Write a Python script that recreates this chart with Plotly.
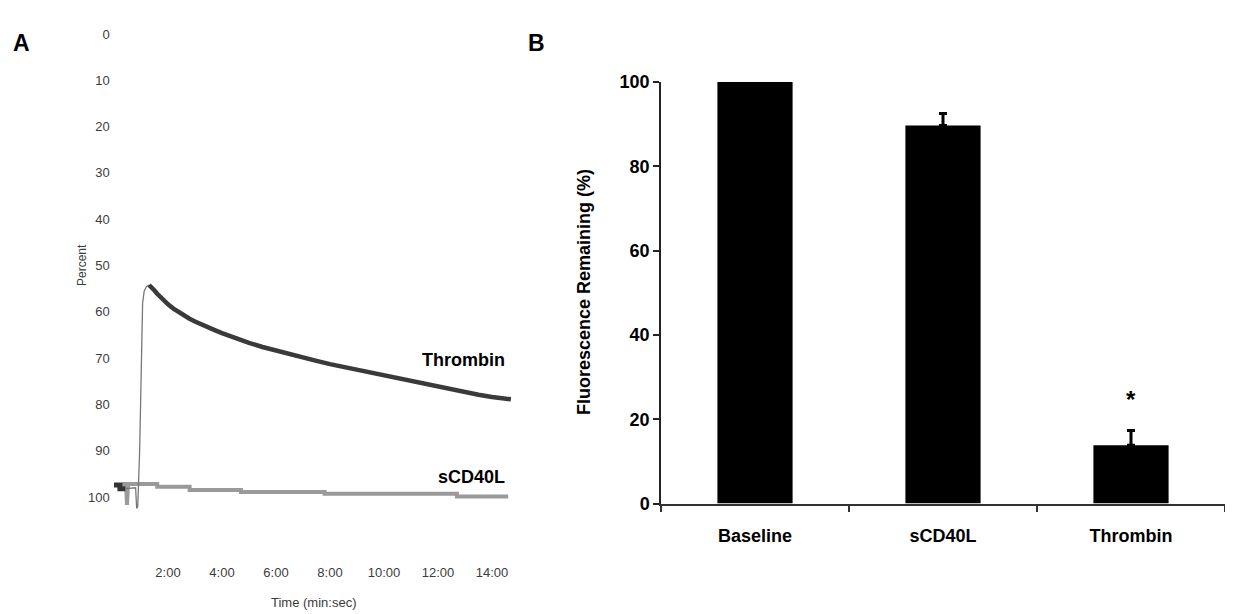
import plotly.graph_objects as go

W, H = 1233, 614
# The page is shown with the browser's default 8px body margin; place items in screen pixels.
OFF_X, OFF_Y = 8, 8

# ---------------- Panel A data (time in minutes, percent) ----------------
thr_pre_t = [0.0, 0.22, 0.22, 0.42]
thr_pre_v = [97.4, 97.4, 98.2, 98.2]

thr_rise_t = [0.42, 0.7, 0.8, 0.84, 0.88, 0.95, 1.0, 1.03, 1.06, 1.12, 1.2, 1.3]
thr_rise_v = [98.2, 98.0, 98.0, 102.5, 102.0, 90.0, 75.0, 65.0, 58.0, 55.5, 54.6, 54.2]

thr_t = [1.3, 1.4, 1.5, 1.6, 1.7, 1.8, 1.9, 2.0, 2.2, 2.4, 2.6, 2.8, 3.0, 3.25,
         3.5, 3.75, 4.0, 4.5, 5.0, 5.5, 6.0, 6.5, 7.0, 7.5, 8.0, 8.5, 9.0, 9.5,
         10.0, 10.5, 11.0, 11.5, 12.0, 12.5, 13.0, 13.5, 14.0, 14.7]
thr_v = [54.2, 54.7, 55.4, 56.1, 56.7, 57.3, 57.9, 58.4, 59.3, 60.1, 60.8, 61.5,
         62.1, 62.8, 63.4, 64.0, 64.6, 65.7, 66.7, 67.6, 68.4, 69.2, 69.9, 70.6,
         71.3, 71.9, 72.6, 73.2, 73.9, 74.5, 75.1, 75.7, 76.3, 76.9, 77.4, 77.9,
         78.4, 78.9]

cd40_t = [0.3, 0.45, 0.48, 0.52, 1.6, 1.6, 2.8, 2.8, 4.7, 4.7, 7.8, 7.8, 12.7, 12.7, 14.6]
cd40_v = [97.2, 97.2, 101.7, 97.2, 97.2, 97.8, 97.8, 98.5, 98.5, 98.9, 98.9, 99.3, 99.3, 99.9, 99.9]

a_xtick_vals = [2, 4, 6, 8, 10, 12, 14]
a_xtick_text = ["2:00", "4:00", "6:00", "8:00", "10:00", "12:00", "14:00"]
a_ytick_vals = [0, 10, 20, 30, 40, 50, 60, 70, 80, 90, 100]

# ---------------- Panel B data ----------------
categories = ["Baseline", "sCD40L", "Thrombin"]
fluor = [100.0, 89.7, 13.8]
fluor_err = [0.0, 2.8, 3.5]
b_ytick_vals = [0, 20, 40, 60, 80, 100]


def px(x):
    return (x - OFF_X) / W


def py(y):
    return 1 - (y - OFF_Y) / H


fig = go.Figure()

# Panel A traces
fig.add_trace(go.Scatter(x=cd40_t, y=cd40_v, mode="lines",
                         line=dict(color="#9a9a9a", width=4),
                         xaxis="x", yaxis="y", showlegend=False))
fig.add_trace(go.Scatter(x=thr_pre_t, y=thr_pre_v, mode="lines",
                         line=dict(color="#333333", width=5),
                         xaxis="x", yaxis="y", showlegend=False))
fig.add_trace(go.Scatter(x=thr_rise_t, y=thr_rise_v, mode="lines",
                         line=dict(color="#777777", width=1.3),
                         xaxis="x", yaxis="y", showlegend=False))
fig.add_trace(go.Scatter(x=thr_t, y=thr_v, mode="lines",
                         line=dict(color="#3a3a3a", width=4.5),
                         xaxis="x", yaxis="y", showlegend=False))

# Panel B bars
fig.add_trace(go.Bar(x=categories, y=fluor, width=0.4,
                     marker=dict(color="black", line=dict(width=0)),
                     error_y=dict(type="data", array=fluor_err,
                                  arrayminus=[0, 0, 0], symmetric=False,
                                  color="black", thickness=3, width=4),
                     xaxis="x2", yaxis="y2", showlegend=False))

# Panel A geometry: t=0 at pixel 114, 27 px per minute; 0% at pixel 34, 4.63 px per %
a_xr = [-0.05, 14.8]
a_left = 114 + 27 * a_xr[0]
a_right = 114 + 27 * a_xr[1]
a_yr = [114.3, -2]
a_top = 34 + 4.63 * a_yr[1]
a_bot = 34 + 4.63 * a_yr[0]

fam = "Liberation Sans, Arial, sans-serif"
fontA = dict(family=fam, size=13, color="#3c3c3c")

fig.update_layout(
    width=W, height=H,
    margin=dict(l=0, r=0, t=0, b=0, pad=0, autoexpand=False),
    paper_bgcolor="white", plot_bgcolor="white",
    font=dict(family=fam),
    xaxis=dict(domain=[px(a_left), px(a_right)], range=a_xr, automargin=False,
               showline=False, showgrid=False, zeroline=False, ticks="",
               tickvals=a_xtick_vals, ticktext=a_xtick_text, tickfont=fontA,
               anchor="y"),
    yaxis=dict(domain=[py(a_bot), py(a_top)], range=a_yr, automargin=False,
               showline=False, showgrid=False, zeroline=False, ticks="",
               tickvals=a_ytick_vals, tickfont=fontA, ticklabelstandoff=2,
               anchor="x"),
    xaxis2=dict(domain=[px(661), px(1225)], range=[-0.5, 2.5], automargin=False,
                type="category", showline=True, linecolor="#333", linewidth=1.5,
                ticks="outside", ticklen=7, tickwidth=1.5, tickcolor="#333",
                tickson="boundaries", showgrid=False, zeroline=False,
                tickfont=dict(family=fam, size=18, color="black", weight="bold"),
                ticklabelstandoff=15, anchor="y2"),
    yaxis2=dict(domain=[py(503.5), py(82)], range=[0, 100], automargin=False,
                showline=True, linecolor="#222", linewidth=1.5,
                ticks="outside", ticklen=6, tickwidth=1.5, tickcolor="#222",
                tickvals=b_ytick_vals, showgrid=False, zeroline=False,
                tickfont=dict(family=fam, size=18, color="black", weight="bold"),
                anchor="x2"),
    bargap=0.6,
)

annotations = [
    dict(text="<b>A</b>", x=px(21), y=py(43), font=dict(family=fam, size=23, color="black")),
    dict(text="<b>B</b>", x=px(536), y=py(43), font=dict(family=fam, size=23, color="black")),
    dict(text="Percent", x=px(82), y=py(265), textangle=-90,
         font=dict(family=fam, size=12, color="#3c3c3c")),
    dict(text="Time (min:sec)", x=px(313), y=py(602),
         font=dict(family=fam, size=13, color="#3c3c3c")),
    dict(text="<b>Thrombin</b>", x=px(507), y=py(360), xanchor="right",
         font=dict(family=fam, size=18, color="black")),
    dict(text="<b>sCD40L</b>", x=px(507), y=py(477), xanchor="right",
         font=dict(family=fam, size=18, color="black")),
    dict(text="<b>Fluorescence Remaining (%)</b>", x=px(584), y=py(292), textangle=-90,
         font=dict(family=fam, size=18, color="black")),
    dict(text="<b>*</b>", x=px(1131), y=py(400),
         font=dict(family=fam, size=24, color="black")),
]
for a in annotations:
    a.setdefault("xref", "paper")
    a.setdefault("yref", "paper")
    a.setdefault("showarrow", False)
    a.setdefault("xanchor", "center")
    a.setdefault("yanchor", "middle")
fig.update_layout(annotations=annotations)

fig.write_html("out.html")
